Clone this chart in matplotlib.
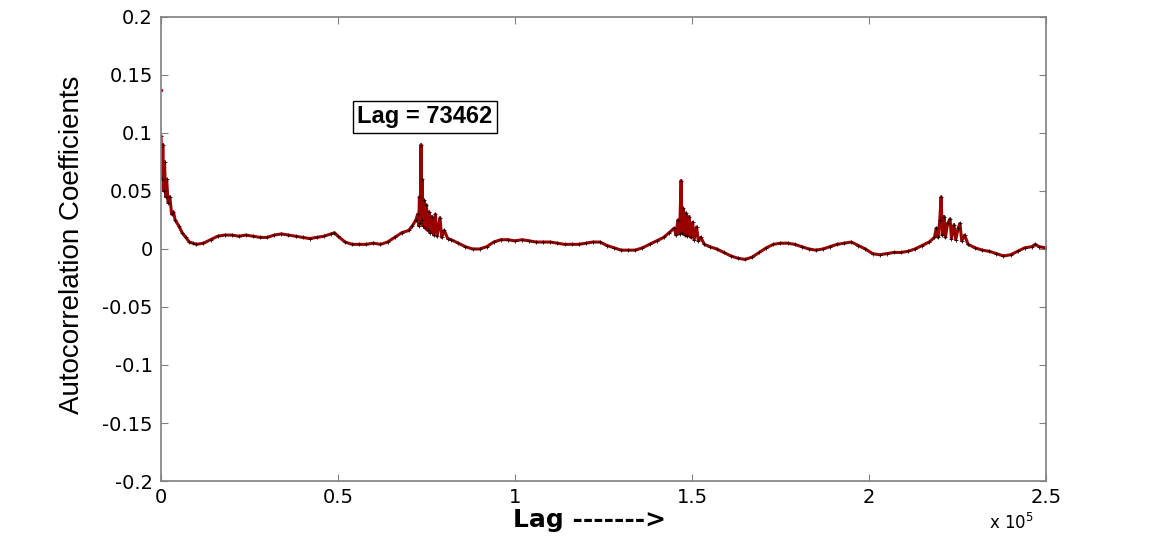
import matplotlib.pyplot as plt
from matplotlib.ticker import FuncFormatter, MultipleLocator

plt.rcParams['axes.unicode_minus'] = False

# autocorrelation (lag, coefficient)
lag = [0, 300, 500, 800, 1000, 1300, 1600, 2000, 2500, 3000, 3500, 4000, 5000, 6000,
       7000, 8000, 9000, 10000, 12000, 14000, 16000, 18000, 20000, 22000, 24000, 26000,
       28000, 30000, 32000, 34000, 36000, 38000, 40000, 42000, 44000, 46000, 48000,
       49000, 50000, 52000, 54000, 56000, 58000, 60000, 62000, 64000, 66000, 68000,
       70000, 71000, 72000,
       72500, 72800, 73000, 73200, 73462, 73600, 73800, 74000, 74300, 74600, 75000,
       75300, 75700, 76000, 76500, 77000, 77500, 78000, 78800, 79300, 80000, 81000,
       82000, 84000, 86000, 88000, 90000, 92000, 94000, 96000, 98000, 100000, 102000,
       104000, 106000, 108000, 110000, 112000, 114000, 116000, 118000, 120000, 122000,
       124000, 126000, 128000, 130000, 132000, 134000, 136000, 138000, 140000, 142000,
       143500,
       145000, 145500, 146000, 146500, 146924, 147200, 147500, 147900, 148300, 148700,
       149200, 149600, 150200, 150600, 151300, 151800, 152500, 153500, 155000, 157000,
       159000, 161000, 163000, 165000, 167000, 169000, 171000, 173000, 175000, 177000,
       179000, 181000, 183000, 185000, 187000, 189000, 191000, 193000, 195000, 197000,
       199000, 201000, 203000, 205000, 207000, 209000, 211000, 213000, 215000, 217000,
       218500,
       219000, 219500, 220000, 220386, 220700, 221200, 221600, 222200, 222900, 223300,
       224000, 224500, 225200, 225700, 226200, 227000, 228000, 230000, 232000, 234000,
       236000, 238000, 240000, 242000, 244000, 246000, 247000, 248000, 250000]
acf = [0.097, 0.060, 0.090, 0.050, 0.075, 0.045, 0.060, 0.040, 0.045, 0.030, 0.032,
       0.025, 0.020, 0.014, 0.010, 0.006, 0.005, 0.004, 0.005, 0.008, 0.011, 0.012,
       0.012, 0.011, 0.012, 0.011, 0.010, 0.010, 0.012, 0.013, 0.012, 0.011, 0.010,
       0.009, 0.010, 0.011, 0.013, 0.014, 0.011, 0.006, 0.004, 0.004, 0.004, 0.005,
       0.004, 0.006, 0.010, 0.014, 0.016, 0.020, 0.025,
       0.030, 0.020, 0.045, 0.022, 0.090, 0.025, 0.060, 0.020, 0.042, 0.018, 0.038,
       0.016, 0.032, 0.014, 0.028, 0.012, 0.030, 0.011, 0.027, 0.010, 0.016, 0.009,
       0.008, 0.005, 0.002, 0.000, 0.000, 0.002, 0.006, 0.008, 0.008, 0.007, 0.008,
       0.007, 0.006, 0.006, 0.006, 0.005, 0.004, 0.004, 0.004, 0.005, 0.006,
       0.006, 0.003, 0.001, -0.001, -0.001, -0.001, 0.001, 0.004, 0.007, 0.010,
       0.014,
       0.018, 0.012, 0.025, 0.013, 0.059, 0.014, 0.035, 0.012, 0.031, 0.011,
       0.028, 0.010, 0.023, 0.008, 0.019, 0.007, 0.010, 0.004, 0.002, 0.000,
       -0.003, -0.006, -0.008, -0.009, -0.007, -0.003, 0.001, 0.004, 0.005, 0.005,
       0.004, 0.002, 0.000, -0.001, 0.000, 0.002, 0.004, 0.005, 0.006, 0.003,
       0.000, -0.004, -0.005, -0.004, -0.003, -0.003, -0.002, 0.000, 0.003, 0.006,
       0.010,
       0.018, 0.010, 0.025, 0.045, 0.012, 0.028, 0.010, 0.022, 0.026, 0.009,
       0.021, 0.008, 0.018, 0.022, 0.007, 0.012, 0.004, 0.001, -0.001, -0.002,
       -0.004, -0.006, -0.005, -0.002, 0.001, 0.002, 0.004, 0.002, 0.001]

# stray point near lag 0
outlier_lag = [0]
outlier_val = [0.137]

peak_lag = 73462

fig = plt.figure(figsize=(11.55, 5.39), dpi=100)
ax = fig.add_axes([0.1394, 0.1076, 0.7662, 0.8609])

ax.plot(lag, acf, color='#9a0000', lw=2.2, marker='+', ms=3,
        mec='#200000', mew=0.6)
ax.plot(outlier_lag, outlier_val, ls='none', marker='.', ms=3, color='#c00000')

ax.set_xlim(0, 250000)
ax.set_ylim(-0.2, 0.2)
ax.xaxis.set_major_locator(MultipleLocator(50000))
ax.yaxis.set_major_locator(MultipleLocator(0.05))
ax.xaxis.set_major_formatter(FuncFormatter(lambda v, p: '%g' % (v / 1e5)))
ax.yaxis.set_major_formatter(FuncFormatter(lambda v, p: '%g' % round(v, 2)))

for s in ax.spines.values():
    s.set_color('#808080')
    s.set_linewidth(1.2)
ax.tick_params(direction='in', length=5, color='#808080', top=True, right=True,
               labelsize=14)
ax.tick_params(axis='x', pad=5)
ax.tick_params(axis='y', pad=6)
for t in ax.get_xticklabels() + ax.get_yticklabels():
    t.set_family('DejaVu Sans')

ax.text(74600, 0.114, 'Lag = %d' % peak_lag, ha='center', va='center',
        fontsize=17, fontweight='bold', family='Liberation Sans',
        bbox=dict(boxstyle='square,pad=0.2', fc='white', ec='black', lw=1))

fig.text(0.062, 0.545, 'Autocorrelation Coefficients', rotation=90,
         ha='center', va='center', fontsize=20, family='Liberation Sans')
fig.text(0.51, 0.035, 'Lag ------->', ha='center', va='center',
         fontsize=18, fontweight='bold', family='DejaVu Sans')
fig.text(0.876, 0.03, 'x 10$^{5}$', ha='center', va='center', fontsize=12,
         family='DejaVu Sans')

plt.savefig('out.png', dpi=100)
